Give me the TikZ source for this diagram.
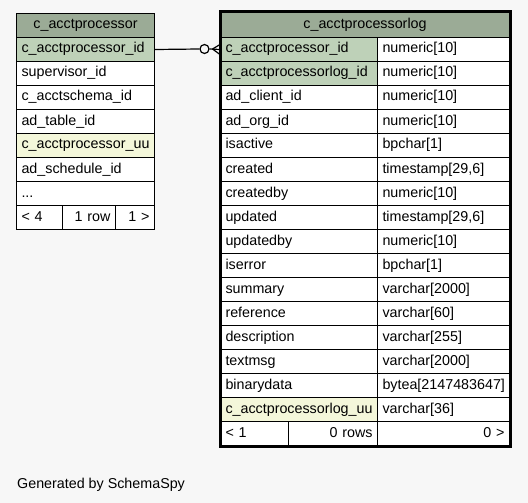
\documentclass[tikz,border=0pt]{standalone}
\usepackage{fontspec}
\setmainfont{Liberation Sans}
\definecolor{hdr}{HTML}{9BAB96}
\definecolor{pkc}{HTML}{BED1B8}
\definecolor{uuc}{HTML}{F4F7DA}
\definecolor{bgc}{HTML}{F7F7F7}
\tikzset{
  cell/.style={draw=black, line width=1pt, anchor=north west, inner xsep=5pt, inner ysep=0pt,
    minimum height=24pt, text height=10pt, text depth=3pt},
  conn/.style={draw=black, line width=1.2pt},
}
\newcommand{\mycell}[8]{%
  \pgfmathsetmacro\mytw{#4-10}%
  \node[cell, fill=#6, text width=\mytw pt, align=#7, minimum height=#5pt] (#1) at (#2,#3) {#8};}
\begin{document}
\begin{tikzpicture}[x=1pt,y=-1pt,font=\fontsize{14.3}{16}\selectfont]
\fill[bgc] (0,0) rectangle (528,503);
\useasboundingbox (0,0) rectangle (528,503);
% left table
\mycell{lt}{16}{13}{138}{24}{hdr}{center}{c\_acctprocessor}
\mycell{l1}{16}{37}{138}{24}{pkc}{left}{c\_acctprocessor\_id}
\mycell{l2}{16}{61}{138}{24}{white}{left}{supervisor\_id}
\mycell{l3}{16}{85}{138}{24}{white}{left}{c\_acctschema\_id}
\mycell{l4}{16}{109}{138}{24}{white}{left}{ad\_table\_id}
\mycell{l5}{16}{133}{138}{24}{uuc}{left}{c\_acctprocessor\_uu}
\mycell{l6}{16}{157}{138}{24}{white}{left}{ad\_schedule\_id}
\mycell{l7}{16}{181}{138}{24}{white}{left}{...}
\mycell{lf1}{16}{205}{46}{24}{white}{left}{< 4}
\mycell{lf2}{62}{205}{53}{24}{white}{right}{1 row}
\mycell{lf3}{115}{205}{39}{24}{white}{right}{1 >}
% right table
\mycell{rt}{220}{12}{289}{25}{hdr}{center}{c\_acctprocessorlog}
\mycell{ra1}{220}{37}{157}{24}{pkc}{left}{c\_acctprocessor\_id}
\mycell{rb1}{377}{37}{132}{24}{white}{left}{numeric[10]}
\mycell{ra2}{220}{61}{157}{24}{pkc}{left}{c\_acctprocessorlog\_id}
\mycell{rb2}{377}{61}{132}{24}{white}{left}{numeric[10]}
\mycell{ra3}{220}{85}{157}{24}{white}{left}{ad\_client\_id}
\mycell{rb3}{377}{85}{132}{24}{white}{left}{numeric[10]}
\mycell{ra4}{220}{109}{157}{24}{white}{left}{ad\_org\_id}
\mycell{rb4}{377}{109}{132}{24}{white}{left}{numeric[10]}
\mycell{ra5}{220}{133}{157}{24}{white}{left}{isactive}
\mycell{rb5}{377}{133}{132}{24}{white}{left}{bpchar[1]}
\mycell{ra6}{220}{157}{157}{24}{white}{left}{created}
\mycell{rb6}{377}{157}{132}{24}{white}{left}{timestamp[29,6]}
\mycell{ra7}{220}{181}{157}{24}{white}{left}{createdby}
\mycell{rb7}{377}{181}{132}{24}{white}{left}{numeric[10]}
\mycell{ra8}{220}{205}{157}{24}{white}{left}{updated}
\mycell{rb8}{377}{205}{132}{24}{white}{left}{timestamp[29,6]}
\mycell{ra9}{220}{229}{157}{24}{white}{left}{updatedby}
\mycell{rb9}{377}{229}{132}{24}{white}{left}{numeric[10]}
\mycell{ra10}{220}{253}{157}{24}{white}{left}{iserror}
\mycell{rb10}{377}{253}{132}{24}{white}{left}{bpchar[1]}
\mycell{ra11}{220}{277}{157}{24}{white}{left}{summary}
\mycell{rb11}{377}{277}{132}{24}{white}{left}{varchar[2000]}
\mycell{ra12}{220}{301}{157}{24}{white}{left}{reference}
\mycell{rb12}{377}{301}{132}{24}{white}{left}{varchar[60]}
\mycell{ra13}{220}{325}{157}{24}{white}{left}{description}
\mycell{rb13}{377}{325}{132}{24}{white}{left}{varchar[255]}
\mycell{ra14}{220}{349}{157}{24}{white}{left}{textmsg}
\mycell{rb14}{377}{349}{132}{24}{white}{left}{varchar[2000]}
\mycell{ra15}{220}{373}{157}{24}{white}{left}{binarydata}
\mycell{rb15}{377}{373}{132}{24}{white}{left}{bytea[2147483647]}
\mycell{ra16}{220}{397}{157}{24}{uuc}{left}{c\_acctprocessorlog\_uu}
\mycell{rb16}{377}{397}{132}{24}{white}{left}{varchar[36]}
\mycell{rf1}{220}{421}{68}{24}{white}{left}{< 1}
\mycell{rf2}{288}{421}{89}{24}{white}{right}{0 rows}
\mycell{rf3}{377}{421}{132}{24}{white}{right}{0 >}
\draw[black, line width=3pt] (rt.north west) rectangle (rf3.south east);
% connector
\node[draw=black, line width=1.2pt, fill=bgc, circle, minimum size=9pt, inner sep=0pt] (circ) at (204.5,49) {};
\coordinate (cf) at (212.5,49);
\draw[conn] (l1.east) -- (circ.west);
\draw[conn] (circ.east) -- (ra1.west);
\draw[conn] (cf) -- ([yshift=5pt]ra1.west);
\draw[conn] (cf) -- ([yshift=-5pt]ra1.west);
% footer
\node[anchor=base west, inner sep=0pt] (gen) at (17,488) {Generated by SchemaSpy};
\end{tikzpicture}
\end{document}
